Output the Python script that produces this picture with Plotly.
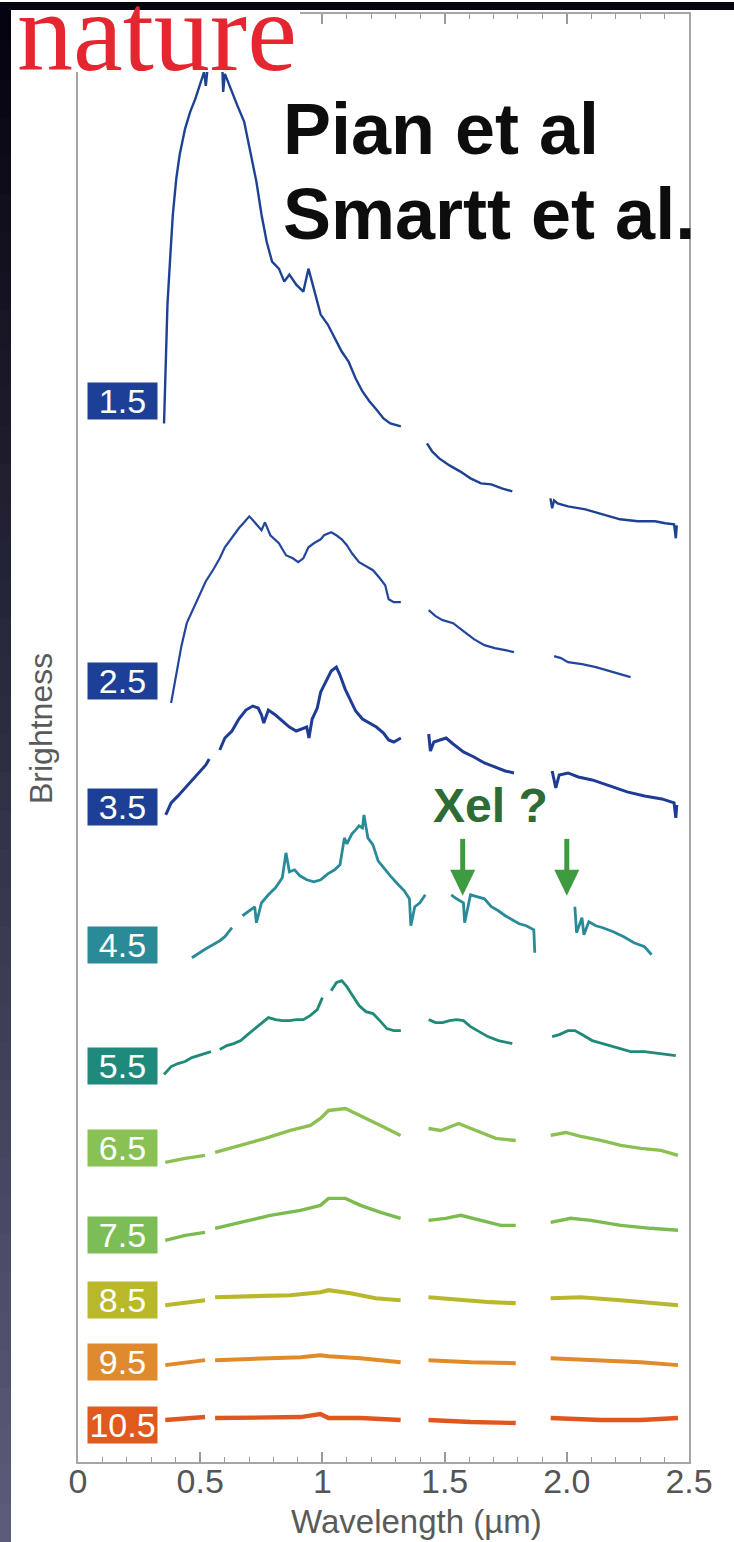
import plotly.graph_objects as go

# ---------------- data ----------------
epochs = ["1.5", "2.5", "3.5", "4.5", "5.5", "6.5", "7.5", "8.5", "9.5", "10.5"]
colors = ["#1d4193", "#23469c", "#1f3c95", "#2a8b98", "#1f8a78",
          "#8cc152", "#7cbb50", "#b9b82b", "#e08a2a", "#e0561f"]
box_colors = ["#1d3f96", "#1d3f96", "#1d3f96", "#2a8a96", "#1f8a7c",
              "#8ac155", "#7dbd55", "#b8b82a", "#df8a2e", "#e05a1e"]

# wavelength (micron) / brightness (arbitrary units, offset applied); None = telluric gap
wl_1p5 = [0.352, 0.359, 0.366, 0.378, 0.388, 0.402, 0.416, 0.438, 0.459, 0.480, 0.502, 0.516,
          0.523, 0.530, 0.555, 0.580, 0.590, 0.594, 0.601, 0.609, 0.623, 0.651, 0.680, 0.708,
          0.730, 0.751, 0.772, 0.794, 0.822, 0.844, 0.865, 0.893, 0.922, 0.943, 0.965, 0.993,
          1.022, 1.050, 1.079, 1.107, 1.136, 1.164, 1.193, 1.221, 1.250, 1.278, 1.321, None,
          1.428, 1.449, 1.478, 1.520, 1.563, 1.606, 1.649, 1.691, 1.734, 1.777, None,
          1.933, 1.940, 1.948, 1.962, 2.005, 2.076, 2.147, 2.218, 2.290, 2.361, 2.403, 2.439,
          2.446, 2.450]
fl_1p5 = [1040, 1092, 1159, 1209, 1249, 1285, 1309, 1335, 1352, 1365, 1382, 1392,
          1378, 1395, 1425, 1420, 1400, 1372, 1390, 1385, 1375, 1359, 1342, 1309,
          1282, 1249, 1222, 1202, 1195, 1182, 1189, 1179, 1172, 1195, 1175, 1149,
          1139, 1125, 1112, 1102, 1085, 1072, 1062, 1054, 1045, 1040, 1037, None,
          1020, 1012, 1005, 998, 992, 985, 980, 979, 975, 972, None,
          965, 955, 963, 960, 957, 954, 949, 944, 942, 942, 940, 939,
          925, 938]

wl_2p5 = [0.381, 0.402, 0.423, 0.445, 0.466, 0.495, 0.523, 0.552, 0.580, 0.601, 0.630, 0.658,
          0.680, 0.701, 0.723, 0.751, 0.765, 0.787, 0.822, 0.851, 0.879, 0.901, 0.922, 0.943,
          0.965, 0.993, 1.007, 1.036, 1.057, 1.079, 1.100, 1.121, 1.150, 1.178, 1.207, 1.235,
          1.257, 1.271, 1.292, 1.321, None,
          1.435, 1.463, 1.492, 1.535, 1.577, 1.620, 1.663, 1.705, 1.748, 1.784, None,
          1.948, 1.976, 2.005, 2.062, 2.119, 2.176, 2.233, 2.261]
fl_2p5 = [760, 790, 817, 840, 851, 866, 882, 893, 905, 916, 926, 935,
          941, 947, 941, 933, 941, 928, 920, 908, 905, 901, 905, 916,
          920, 924, 928, 931, 928, 924, 918, 910, 901, 897, 893, 885,
          878, 864, 861, 861, None,
          853, 847, 843, 840, 832, 824, 818, 815, 813, 811, None,
          807, 805, 801, 799, 796, 792, 788, 786]

wl_3p5 = [0.359, 0.381, 0.409, 0.438, 0.466, 0.495, 0.523, 0.537, None,
          0.580, 0.601, 0.630, 0.658, 0.687, 0.715, 0.737, 0.751, 0.760, 0.779, 0.808, 0.836,
          0.865, 0.893, 0.915, 0.936, 0.945, 0.958, 0.979, 0.993, 1.003, 1.036, 1.057, 1.072,
          1.093, 1.114, 1.136, 1.164, 1.193, 1.221, 1.250, 1.271, 1.292, 1.321, None,
          1.435, 1.442, 1.456, 1.478, 1.506, 1.535, 1.577, 1.620, 1.663, 1.705, 1.748, 1.784, None,
          1.940, 1.955, 1.969, 2.005, 2.047, 2.104, 2.176, 2.247, 2.318, 2.389, 2.439, 2.446, 2.450]
fl_3p5 = [648, 660, 667, 675, 683, 690, 698, 704, None,
          713, 725, 732, 744, 753, 757, 755, 748, 740, 753, 748, 742,
          736, 732, 734, 736, 725, 744, 755, 771, 776, 792, 796, 788,
          774, 763, 752, 744, 740, 736, 730, 723, 721, 725, None,
          729, 712, 721, 723, 725, 719, 711, 706, 700, 696, 692, 690, None,
          692, 675, 688, 690, 686, 683, 677, 671, 667, 664, 660, 645, 658]

wl_4p5 = [0.466, 0.495, 0.523, 0.552, 0.580, 0.601, 0.630, None,
          0.673, 0.694, 0.723, 0.730, 0.751, 0.779, 0.808, 0.836, 0.851, 0.865, 0.886, 0.908,
          0.936, 0.965, 0.993, 1.022, 1.050, 1.072, 1.086, 1.090, 1.100, 1.121, 1.136, 1.150,
          1.164, 1.170, 1.186, 1.207, 1.228, 1.250, 1.278, 1.307, 1.335, 1.356, 1.362, 1.378,
          1.399, 1.421, None,
          1.527, 1.549, 1.577, 1.582, 1.606, 1.634, 1.663, 1.691, 1.720, 1.748, 1.777, 1.805,
          1.834, 1.865, 1.869, None,
          2.033, 2.040, 2.062, 2.070, 2.090, 2.119, 2.147, 2.190, 2.233, 2.275, 2.318, 2.347]
fl_4p5 = [505, 510, 514, 518, 522, 526, 535, None,
          547, 551, 556, 540, 560, 568, 575, 585, 610, 591, 593, 587,
          583, 581, 583, 589, 593, 598, 618, 625, 619, 629, 633, 637,
          635, 648, 625, 618, 602, 595, 587, 579, 572, 564, 537, 556,
          560, 568, None,
          568, 564, 560, 540, 568, 566, 564, 556, 552, 547, 543, 539,
          537, 533, 510, None,
          556, 530, 545, 528, 541, 537, 535, 531, 526, 520, 516, 508]

wl_5p5 = [0.352, 0.381, 0.409, 0.438, 0.466, 0.495, 0.523, 0.544, None,
          0.580, 0.609, 0.637, 0.666, 0.694, 0.723, 0.751, 0.779, 0.808, 0.836, 0.865, 0.893,
          0.922, 0.950, 0.979, 1.000, None,
          1.036, 1.057, 1.079, 1.100, 1.121, 1.150, 1.178, 1.207, 1.235, 1.264, 1.292, 1.321, None,
          1.435, 1.463, 1.492, 1.520, 1.549, 1.577, 1.606, 1.634, 1.677, 1.720, 1.777, None,
          1.940, 1.969, 2.005, 2.033, 2.062, 2.104, 2.147, 2.204, 2.261, 2.318, 2.375, 2.446]
fl_5p5 = [388, 396, 399, 401, 405, 407, 409, 411, None,
          413, 417, 419, 422, 428, 434, 440, 445, 443, 442, 442, 443,
          443, 447, 453, 465, None,
          472, 480, 482, 476, 468, 457, 451, 449, 442, 434, 432, 432, None,
          443, 440, 440, 442, 443, 442, 436, 432, 426, 422, 419, None,
          426, 428, 432, 432, 428, 422, 419, 415, 411, 411, 409, 407]

wl_6p5 = [0.357, 0.439, 0.520, None,
          0.561, 0.664, 0.766, 0.869, 0.951, 0.992, 1.025, 1.094, 1.156, 1.238, 1.320, None,
          1.434, 1.484, 1.557, 1.627, 1.709, 1.791, None,
          1.934, 1.996, 2.057, 2.139, 2.221, 2.303, 2.385, 2.455]
fl_6p5 = [300, 304, 307, None,
          310, 317, 324, 332, 337, 344, 352, 354, 347, 337, 327, None,
          334, 332, 339, 332, 324, 322, None,
          327, 330, 326, 322, 317, 314, 312, 307]

wl_7p5 = [0.357, 0.439, 0.520, None,
          0.561, 0.664, 0.787, 0.910, 0.992, 1.025, 1.094, 1.156, 1.238, 1.320, None,
          1.434, 1.504, 1.566, 1.648, 1.730, 1.791, None,
          1.934, 2.016, 2.098, 2.221, 2.344, 2.455]
fl_7p5 = [222, 227, 230, None,
          234, 240, 247, 252, 257, 264, 264, 257, 250, 244, None,
          242, 244, 247, 242, 237, 237, None,
          240, 244, 242, 237, 234, 232]

wl_8p5 = [0.357, 0.439, 0.520, None,
          0.561, 0.705, 0.869, 0.992, 1.025, 1.115, 1.217, 1.320, None,
          1.434, 1.566, 1.689, 1.791, None,
          1.934, 2.057, 2.221, 2.344, 2.455]
fl_8p5 = [157, 160, 162, None,
          165, 166, 167, 170, 172, 169, 164, 162, None,
          165, 162, 160, 159, None,
          164, 165, 162, 159, 157]

wl_9p5 = [0.357, 0.439, 0.520, None,
          0.561, 0.746, 0.910, 0.992, 1.025, 1.156, 1.320, None,
          1.434, 1.607, 1.791, None,
          1.934, 2.139, 2.303, 2.455]
fl_9p5 = [97, 100, 102, None,
          102, 104, 105, 107, 106, 104, 100, None,
          102, 100, 99, None,
          104, 102, 100, 97]

wl_10p5 = [0.357, 0.439, 0.520, None,
           0.561, 0.746, 0.910, 0.992, 1.025, 1.156, 1.320, None,
           1.434, 1.607, 1.791, None,
           1.934, 2.139, 2.303, 2.455]
fl_10p5 = [42, 44, 45, None,
           44, 44, 45, 48, 44, 44, 42, None,
           42, 40, 39, None,
           44, 42, 42, 44]

spectra_wl = [wl_1p5, wl_2p5, wl_3p5, wl_4p5, wl_5p5, wl_6p5, wl_7p5, wl_8p5, wl_9p5, wl_10p5]
spectra_fl = [fl_1p5, fl_2p5, fl_3p5, fl_4p5, fl_5p5, fl_6p5, fl_7p5, fl_8p5, fl_9p5, fl_10p5]

x_tickvals = [0, 0.5, 1, 1.5, 2, 2.5]
x_ticktext = ["0", "0.5", "1", "1.5", "2.0", "2.5"]
xei_lines = [1.574, 2.0]

# ---------------- layout / styling ----------------
W, H = 734, 1542
L, R, T, B = 78, 45, 12, 80
PW, PH = W - L - R, H - T - B
Y_RANGE = [0, 1450]


def px_x(p):   # page pixel -> paper x
    return (p - L) / PW


def px_y(p):   # page pixel -> paper y
    return (H - B - p) / PH


# label box vertical positions (page pixels)
label_pix_y = [400, 680, 806, 944, 1065, 1148, 1235, 1300, 1362, 1425]
line_widths = [2.4, 2.2, 3.0, 2.8, 2.8, 3.4, 3.4, 4.2, 4.0, 4.4]

fig = go.Figure()
for wl, fl, col, lw in zip(spectra_wl, spectra_fl, colors, line_widths):
    fig.add_trace(go.Scatter(x=wl, y=fl, mode="lines", connectgaps=False,
                             line=dict(color=col, width=lw), hoverinfo="skip"))

shapes = []
# left dark gradient strip
top_c = (4, 4, 16)
bot_c = (92, 92, 122)
nb = 40
for i in range(nb):
    t = i / (nb - 1)
    c = tuple(int(top_c[k] + (bot_c[k] - top_c[k]) * t) for k in range(3))
    y0p = i * H / nb
    y1p = (i + 1) * H / nb + 1
    shapes.append(dict(type="rect", xref="paper", yref="paper", layer="above",
                       x0=px_x(0), x1=px_x(11), y0=px_y(y1p), y1=px_y(y0p),
                       line=dict(width=0), fillcolor="rgb(%d,%d,%d)" % c))
# top dark strip
shapes.append(dict(type="rect", xref="paper", yref="paper", layer="above",
                   x0=px_x(0), x1=px_x(W), y0=px_y(8), y1=px_y(0),
                   line=dict(width=0), fillcolor="#05050f"))
# white logo patch
shapes.append(dict(type="rect", xref="paper", yref="paper", layer="above",
                   x0=px_x(19), x1=px_x(300), y0=px_y(70), y1=px_y(10),
                   line=dict(width=0), fillcolor="white"))
# green arrows (shaft + head)
arrow_col = "#3f9b3f"
tip_v = 1462 - 895
for xl in xei_lines:
    shapes.append(dict(type="line", xref="x", yref="y", layer="above",
                       x0=xl, x1=xl, y0=tip_v + 22, y1=tip_v + 57,
                       line=dict(color=arrow_col, width=5)))
    hw = 12.5 / PW * 2.5
    shapes.append(dict(type="path", xref="x", yref="y", layer="above",
                       path="M %f %f L %f %f L %f %f Z" % (xl, tip_v, xl - hw, tip_v + 26, xl + hw, tip_v + 26),
                       line=dict(width=0), fillcolor=arrow_col))

annotations = []
for ep, yc, bc in zip(epochs, label_pix_y, box_colors):
    annotations.append(dict(xref="paper", yref="paper", x=px_x(122.5), y=px_y(yc),
                            xanchor="center", yanchor="middle", text=ep, showarrow=False,
                            width=69, height=36, borderpad=0, bgcolor=bc,
                            font=dict(family="Liberation Sans, Arial", size=34, color="white")))

annotations += [
    dict(xref="paper", yref="paper", x=px_x(16), y=px_y(93), xanchor="left", yanchor="bottom",
         text="nature", showarrow=False, borderpad=0,
         font=dict(family="Liberation Serif, Times New Roman", size=112, color="#e3262f")),
    dict(xref="paper", yref="paper", x=px_x(282), y=px_y(168), xanchor="left", yanchor="bottom",
         text="<b>Pian et al</b>", showarrow=False, borderpad=0,
         font=dict(family="Liberation Sans, Arial", size=72, color="#0d0d0d")),
    dict(xref="paper", yref="paper", x=px_x(282), y=px_y(253), xanchor="left", yanchor="bottom",
         text="<b>Smartt et al.</b>", showarrow=False, borderpad=0,
         font=dict(family="Liberation Sans, Arial", size=72, color="#0d0d0d")),
    dict(xref="paper", yref="paper", x=px_x(490), y=px_y(805), xanchor="center", yanchor="middle",
         text="<b>Xel ?</b>", showarrow=False, borderpad=0,
         font=dict(family="Liberation Sans, Arial", size=48, color="#2d6b37")),
    dict(xref="paper", yref="paper", x=px_x(41), y=px_y(728), xanchor="center", yanchor="middle",
         text="Brightness", textangle=-90, showarrow=False,
         font=dict(family="Liberation Sans, Arial", size=32, color="#5a5a5a")),
    dict(xref="paper", yref="paper", x=px_x(416), y=px_y(1522), xanchor="center", yanchor="middle",
         text="Wavelength (µm)", showarrow=False,
         font=dict(family="Liberation Sans, Arial", size=33, color="#5a5a5a")),
]

fig.update_layout(
    width=W, height=H, margin=dict(l=L, r=R, t=T, b=B, pad=0),
    paper_bgcolor="white", plot_bgcolor="white", showlegend=False,
    shapes=shapes, annotations=annotations,
    xaxis=dict(range=[0, 2.5], tickvals=x_tickvals, ticktext=x_ticktext,
               ticks="inside", ticklen=10, tickwidth=1.5, tickcolor="#9a9a9a",
               ticklabelstandoff=-12,
               minor=dict(dtick=0.1, tick0=0, ticks="inside", ticklen=5, tickwidth=1.2, tickcolor="#9a9a9a"),
               showline=True, linecolor="#a5a5a5", linewidth=1.5, mirror="allticks",
               showgrid=False, zeroline=False,
               tickfont=dict(family="Liberation Sans, Arial", size=34, color="#555555")),
    yaxis=dict(range=Y_RANGE, showticklabels=False, ticks="", showline=True, mirror=True,
               linecolor="#a5a5a5", linewidth=1.5, showgrid=False, zeroline=False),
)

fig.write_html("out.html")
